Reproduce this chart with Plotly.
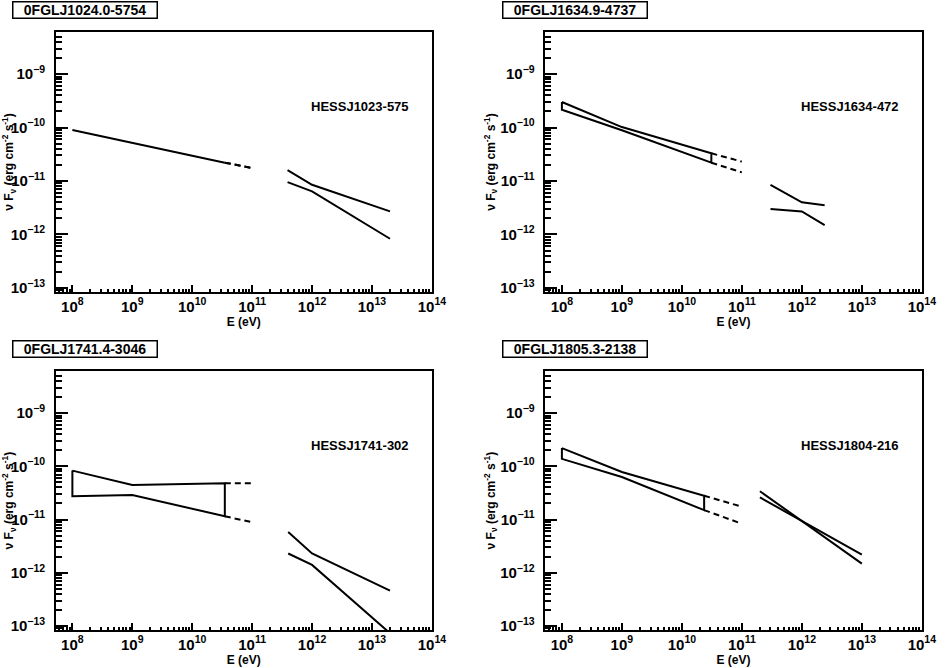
import plotly.graph_objects as go
from plotly.subplots import make_subplots

# panel names: Fermi source (boxed title) and HESS counterpart (label)
fermi_names = ["0FGLJ1024.0-5754", "0FGLJ1634.9-4737", "0FGLJ1741.4-3046", "0FGLJ1805.3-2138"]
hess_names = ["HESSJ1023-575", "HESSJ1634-472", "HESSJ1741-302", "HESSJ1804-216"]

# Fermi butterfly (E in eV, nuFnu in erg cm^-2 s^-1)
fermi_e = [[1e8, 3.5e10], [1e8, 1e9, 3.1e10], [1e8, 1e9, 3.5e10], [1e8, 1e9, 2.35e10]]
fermi_hi = [[9.0e-11, 2.2e-11], [3.0e-10, 1.02e-10, 3.3e-11],
            [8.3e-11, 4.45e-11, 4.8e-11], [2.2e-10, 7.8e-11, 2.8e-11]]
fermi_lo = [[9.0e-11, 2.2e-11], [2.15e-10, 8.9e-11, 2.2e-11],
            [2.75e-11, 2.9e-11, 1.15e-11], [1.38e-10, 6.3e-11, 1.5e-11]]

# dashed extrapolation of the Fermi spectrum
ext_e = [[3.5e10, 1e11], [3.1e10, 1e11], [3.5e10, 1e11], [2.35e10, 9e10]]
ext_hi = [[2.2e-11, 1.75e-11], [3.3e-11, 2.3e-11], [4.8e-11, 4.8e-11], [2.8e-11, 1.8e-11]]
ext_lo = [[2.2e-11, 1.75e-11], [2.2e-11, 1.45e-11], [1.15e-11, 8.9e-12], [1.5e-11, 8.7e-12]]

# HESS spectrum bounds
hess_e = [[3.9e11, 1e12, 2e13], [3e11, 1e12, 2.4e12], [4e11, 1e12, 2e13], [2e11, 1e13]]
hess_hi = [[1.6e-11, 8.5e-12, 2.7e-12], [8.5e-12, 4.0e-12, 3.5e-12],
           [5.8e-12, 2.3e-12, 4.6e-13], [3.4e-11, 1.48e-12]]
hess_lo = [[9.5e-12, 6.4e-12, 8.3e-13], [3.0e-12, 2.7e-12, 1.5e-12],
           [2.3e-12, 1.4e-12, 7.3e-14], [2.6e-11, 2.2e-12]]

FONT = "Liberation Sans, Arial, sans-serif"
line = dict(color="black", width=2)

fig = make_subplots(rows=2, cols=2)

for i in range(4):
    row, col = i // 2 + 1, i % 2 + 1
    fe, hi, lo = fermi_e[i], fermi_hi[i], fermi_lo[i]
    # closed butterfly outline
    fig.add_trace(go.Scatter(x=fe + fe[::-1] + [fe[0]], y=hi + lo[::-1] + [hi[0]],
                             mode="lines", line=line), row=row, col=col)
    for ys in (ext_hi[i], ext_lo[i]):
        fig.add_trace(go.Scatter(x=ext_e[i], y=ys, mode="lines",
                                 line=dict(color="black", width=2, dash="6px,4px")),
                      row=row, col=col)
    for ys in (hess_hi[i], hess_lo[i]):
        fig.add_trace(go.Scatter(x=hess_e[i], y=ys, mode="lines", line=line),
                      row=row, col=col)

x_domains = [[0.0494, 0.4577], [0.5803, 0.9891]]
y_domains = [[0.560, 0.952], [0.0509, 0.4412]]

tickfont = dict(family=FONT, size=12, color="black", weight="bold")
titlefont = dict(family=FONT, size=12, color="black", weight="bold")

for i in range(4):
    r, c = i // 2, i % 2
    sfx = "" if i == 0 else str(i + 1)
    fig.layout["xaxis" + sfx].update(
        type="log", range=[7.719, 14.002], domain=x_domains[c],
        showline=True, linecolor="black", linewidth=2, mirror=True,
        ticks="inside", ticklen=7, tickwidth=1.5, tickcolor="black",
        dtick=1, exponentformat="power", showexponent="all",
        minor=dict(ticks="inside", ticklen=3.5, tickwidth=1.5, tickcolor="black",
                   dtick="D1", showgrid=False),
        showgrid=False, zeroline=False, tickfont=tickfont,
        title=dict(text="E (eV)", font=titlefont, standoff=2),
    )
    fig.layout["yaxis" + sfx].update(
        type="log", range=[-13.08, -8.21], domain=y_domains[r],
        showline=True, linecolor="black", linewidth=2, mirror=True,
        ticks="inside", ticklen=12, tickwidth=1.5, tickcolor="black",
        dtick=1, exponentformat="power", showexponent="all",
        minor=dict(ticks="inside", ticklen=6, tickwidth=1.5, tickcolor="black",
                   dtick="D1", showgrid=False),
        showgrid=False, zeroline=False, tickfont=tickfont, ticklabelstandoff=6,
        title=dict(text="ν F<sub>ν</sub> (erg cm<sup>-2</sup> s<sup>-1</sup>)",
                   font=titlefont, standoff=2),
    )

box_x = [0.0813, 0.6126]
box_y = [0.9855, 0.4748]
for i in range(4):
    r, c = i // 2, i % 2
    sfx = "" if i == 0 else str(i + 1)
    fig.add_annotation(text=fermi_names[i], xref="paper", yref="paper",
                       x=box_x[c], y=box_y[r], xanchor="center", yanchor="middle",
                       showarrow=False, width=141, height=13, borderpad=1,
                       borderwidth=1.5, bordercolor="black",
                       font=dict(family=FONT, size=14, color="black", weight="bold"))
    fig.add_annotation(text=hess_names[i], xref="x" + sfx, yref="y" + sfx,
                       x=11.95, y=-9.6, xanchor="left", yanchor="middle", showarrow=False,
                       font=dict(family=FONT, size=13, color="black", weight="bold"))

fig.update_layout(width=946, height=668, margin=dict(l=0, r=0, t=0, b=0),
                  paper_bgcolor="white", plot_bgcolor="white", showlegend=False)

# drop the default page margin so the figure sits at the window corner
fig.write_html("out.html", config={"displayModeBar": False},
               post_script="document.body.style.margin='0';")
